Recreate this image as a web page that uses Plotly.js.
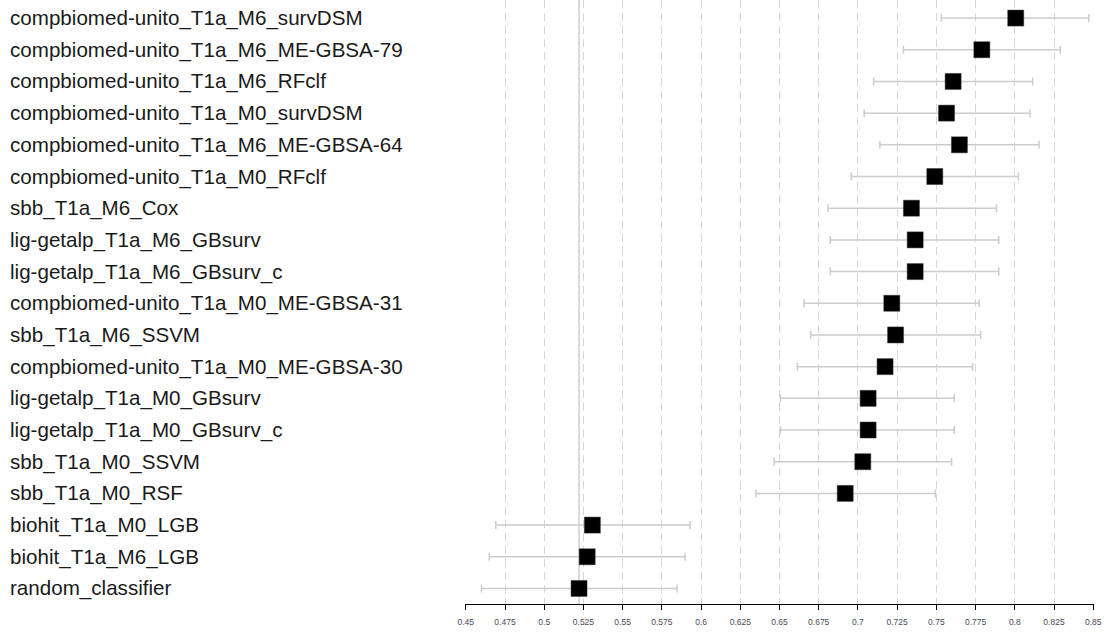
<!DOCTYPE html>
<html>
<head>
<meta charset="utf-8">
<script src="https://cdn.plot.ly/plotly-3.0.1.min.js"></script>
<style>html,body{margin:0;padding:0;background:#fff;}#chart{width:1109px;height:635px;}</style>
</head>
<body>
<div id="chart"></div>
<script>
const models = [
  "compbiomed-unito_T1a_M6_survDSM",
  "compbiomed-unito_T1a_M6_ME-GBSA-79",
  "compbiomed-unito_T1a_M6_RFclf",
  "compbiomed-unito_T1a_M0_survDSM",
  "compbiomed-unito_T1a_M6_ME-GBSA-64",
  "compbiomed-unito_T1a_M0_RFclf",
  "sbb_T1a_M6_Cox",
  "lig-getalp_T1a_M6_GBsurv",
  "lig-getalp_T1a_M6_GBsurv_c",
  "compbiomed-unito_T1a_M0_ME-GBSA-31",
  "sbb_T1a_M6_SSVM",
  "compbiomed-unito_T1a_M0_ME-GBSA-30",
  "lig-getalp_T1a_M0_GBsurv",
  "lig-getalp_T1a_M0_GBsurv_c",
  "sbb_T1a_M0_SSVM",
  "sbb_T1a_M0_RSF",
  "biohit_T1a_M0_LGB",
  "biohit_T1a_M6_LGB",
  "random_classifier"
];
const score = [0.8006, 0.7790, 0.7607, 0.7565, 0.7647, 0.7490, 0.7341, 0.7365, 0.7365, 0.7216, 0.7240, 0.7173, 0.7065, 0.7065, 0.7031, 0.6919, 0.5307, 0.5274, 0.5222];
const lower = [0.7532, 0.7290, 0.7100, 0.7040, 0.7140, 0.6958, 0.6809, 0.6824, 0.6824, 0.6657, 0.6699, 0.6614, 0.6506, 0.6506, 0.6466, 0.6350, 0.4691, 0.4650, 0.4600];
const upper = [0.8472, 0.8290, 0.8114, 0.8097, 0.8155, 0.8023, 0.7883, 0.7898, 0.7898, 0.7773, 0.7782, 0.7731, 0.7614, 0.7614, 0.7597, 0.7494, 0.5930, 0.5898, 0.5847];
const tickVals = [0.45,0.475,0.5,0.525,0.55,0.575,0.6,0.625,0.65,0.675,0.7,0.725,0.75,0.775,0.8,0.825,0.85];
const tickText = ["0.45","0.475","0.5","0.525","0.55","0.575","0.6","0.625","0.65","0.675","0.7","0.725","0.75","0.775","0.8","0.825","0.85"];
const baselineModel = "random_classifier";

const baseVal = score[models.indexOf(baselineModel)];

const trace = {
  type: 'scatter',
  mode: 'markers',
  x: score,
  y: models,
  marker: {symbol: 'square', size: 16, color: '#000000', line: {width: 0.5, color: '#333'}},
  error_x: {
    type: 'data', symmetric: false,
    array: upper.map((u, i) => u - score[i]),
    arrayminus: lower.map((l, i) => score[i] - l),
    color: '#cccccc', thickness: 1.5, width: 4
  },
  hoverinfo: 'x+y',
  showlegend: false
};

const L = 465, R = 15;
const plotW = 1109 - L - R;
const annotations = models.map(m => ({
  xref: 'paper', yref: 'y', x: (8 - L) / plotW, y: m,
  xanchor: 'left', yanchor: 'middle', text: m, showarrow: false,
  font: {family: 'Liberation Sans, Arial, sans-serif', size: 20.6, color: '#1a1a1a'}
}));

const layout = {
  width: 1109, height: 635,
  margin: {l: L, r: R, t: 0, b: 31, pad: 0},
  paper_bgcolor: '#ffffff', plot_bgcolor: '#ffffff',
  font: {family: 'Liberation Sans, Arial, sans-serif'},
  xaxis: {
    range: [0.4495, 0.8505],
    tickmode: 'array', tickvals: tickVals, ticktext: tickText,
    showgrid: true, gridcolor: '#d6d6d6', gridwidth: 1, griddash: '8px,5px',
    zeroline: false,
    showline: true, linecolor: '#000000', linewidth: 1,
    ticks: 'outside', ticklen: 5, tickcolor: '#000000', tickwidth: 1,
    ticklabelstandoff: 5,
    tickfont: {size: 8.5, color: '#4a4a5a'}
  },
  yaxis: {
    type: 'category',
    categoryorder: 'array', categoryarray: models,
    range: [18.49, -0.57],
    showgrid: false, zeroline: false, showline: false,
    showticklabels: false, ticks: ''
  },
  shapes: [{
    type: 'line', xref: 'x', yref: 'paper',
    x0: baseVal, x1: baseVal, y0: 0, y1: 1,
    line: {color: '#cfcfcf', width: 1.5},
    layer: 'below'
  }],
  annotations: annotations
};

Plotly.newPlot('chart', [trace], layout, {displayModeBar: false, staticPlot: true});
</script>
</body>
</html>
